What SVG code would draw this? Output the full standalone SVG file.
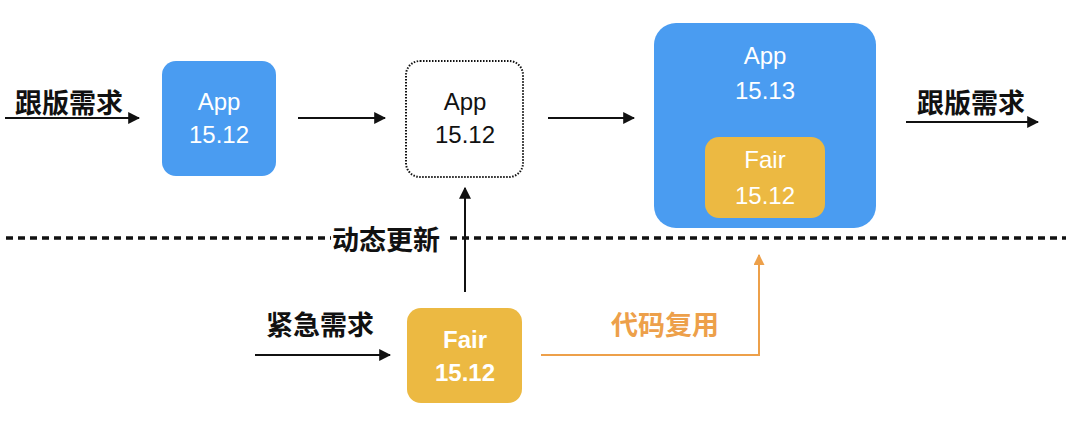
<svg xmlns="http://www.w3.org/2000/svg" width="1080" height="434" viewBox="0 0 1080 434">
<style>
.cn{font-family:"Noto Sans CJK SC","Noto Sans",sans-serif;font-weight:bold;font-size:27px;fill:#111}
.lbl{font-family:"Liberation Sans",Arial,sans-serif;font-size:24px;text-anchor:middle}
.w{fill:#fff}
.k{fill:#111}
.blue{fill:#4a9cf1}
.yel{fill:#ecb942}
.ln{stroke:#111;stroke-width:2;fill:none}
.or{stroke:#eda04a;stroke-width:2;fill:none}
</style>
<defs>
<marker id="ab" viewBox="0 0 10 10" refX="9" refY="5" markerWidth="12" markerHeight="12" markerUnits="userSpaceOnUse" orient="auto"><path d="M0,0 L10,5 L0,10 z" fill="#111"/></marker>
<marker id="ao" viewBox="0 0 10 10" refX="9" refY="5" markerWidth="11" markerHeight="11" markerUnits="userSpaceOnUse" orient="auto"><path d="M0,0 L10,5 L0,10 z" fill="#eda04a"/></marker>
</defs>
<rect width="1080" height="434" fill="#fff"/>
<g id="divider">
<line x1="6" y1="238" x2="1066" y2="238" stroke="#111" stroke-width="3.5" stroke-dasharray="7,5"/>
</g>
<g id="connectors">
<line class="ln" x1="5" y1="118" x2="139" y2="118" marker-end="url(#ab)"/>
<line class="ln" x1="298" y1="118" x2="385" y2="118" marker-end="url(#ab)"/>
<line class="ln" x1="548" y1="118" x2="634" y2="118" marker-end="url(#ab)"/>
<line class="ln" x1="906" y1="122" x2="1038" y2="122" marker-end="url(#ab)"/>
<line class="ln" x1="255" y1="355" x2="390" y2="355" marker-end="url(#ab)"/>
<line class="ln" x1="465" y1="292" x2="465" y2="188" marker-end="url(#ab)"/>
<polyline class="or" points="541,355 759,355 759,255" marker-end="url(#ao)"/>
</g>
<g id="labels">
<text class="cn" x="15" y="113">跟版需求</text>
<text class="cn" x="917" y="113">跟版需求</text>
<text class="cn" x="266" y="335">紧急需求</text>
<text class="cn" x="611" y="335" style="fill:#eda04a">代码复用</text>
<rect x="331" y="225" width="114" height="27" fill="#fff"/>
<text class="cn" x="332" y="250">动态更新</text>
</g>
<g id="app1">
<rect class="blue" x="162" y="61" width="114" height="115" rx="14"/>
<text class="lbl w" x="219" y="110">App</text>
<text class="lbl w" x="219" y="143">15.12</text>
</g>
<g id="app2">
<rect x="406" y="61" width="117" height="116" rx="14" fill="#fff" stroke="#111" stroke-width="2" stroke-dasharray="1.5,1.5"/>
<text class="lbl k" x="465" y="110">App</text>
<text class="lbl k" x="465" y="143">15.12</text>
</g>
<g id="app3">
<rect class="blue" x="654" y="23" width="222" height="205" rx="22"/>
<text class="lbl w" x="765" y="64">App</text>
<text class="lbl w" x="765" y="99">15.13</text>
</g>
<g id="fair-inner">
<rect class="yel" x="705" y="137" width="120" height="81" rx="14"/>
<text class="lbl w" x="765" y="168">Fair</text>
<text class="lbl w" x="765" y="204">15.12</text>
</g>
<g id="fair">
<rect class="yel" x="407" y="308" width="115" height="95" rx="14"/>
<text class="lbl w" x="465" y="348" font-weight="bold">Fair</text>
<text class="lbl w" x="465" y="381" font-weight="bold">15.12</text>
</g>
</svg>
